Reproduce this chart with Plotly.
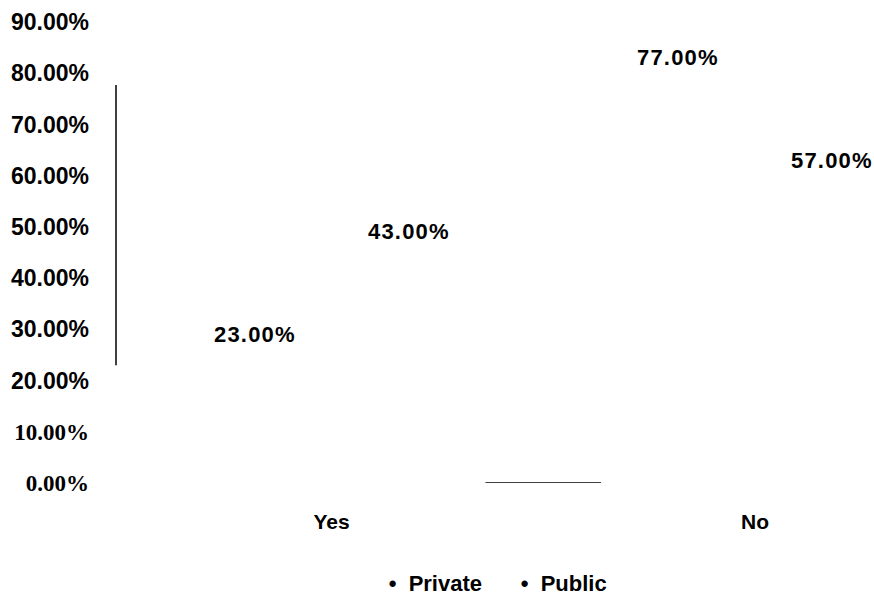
import plotly.graph_objects as go

# Survey answers by sector
categories = ["Yes", "No"]
private = [0.23, 0.77]
public = [0.43, 0.57]
series_names = ["Private", "Public"]

y_ticks = [i / 10 for i in range(10)]
y_tick_labels = ["%.2f%%" % (v * 100) for v in y_ticks]

SANS = "Liberation Sans, Arial, sans-serif"
SERIF = "Liberation Serif, Times New Roman, serif"
BAR_GAP = 0.273
bar_w = (1 - BAR_GAP) / 2

# the lowest two tick labels use a serif face
tick_text = []
for v, t in zip(y_ticks, y_tick_labels):
    if v < 0.15:
        tick_text.append("<span style='font-family:%s'>%s</span>" % (SERIF, t))
    else:
        tick_text.append(t)

fig = go.Figure()
for name, vals in zip(series_names, [private, public]):
    fig.add_trace(go.Bar(
        x=categories, y=vals, name="\u2022\u00a0\u00a0" + name,
        marker=dict(color="white", line=dict(width=0)),
        hoverinfo="skip",
    ))

# value labels floating above each bar
annotations = []
for si, vals in enumerate([private, public]):
    offset = -bar_w / 2 if si == 0 else bar_w / 2
    for ci, v in enumerate(vals):
        annotations.append(dict(
            x=ci + offset, y=v, xref="x", yref="y",
            text="<span style='letter-spacing:1.2px'>%.2f%%</span>" % (v * 100),
            showarrow=False, yshift=31,
            font=dict(family=SANS, size=22, color="black", weight="bold"),
        ))

shapes = [
    # baseline between the two groups
    dict(type="line", xref="x", yref="y", x0=bar_w, x1=1 - bar_w, y0=0, y1=0,
         line=dict(color="black", width=1.5)),
    # left rule spanning the private range
    dict(type="line", xref="paper", yref="y", x0=0, x1=0,
         y0=min(private), y1=max(private) + 0.007,
         line=dict(color="black", width=1.5)),
]

fig.update_layout(
    width=874, height=596,
    margin=dict(l=116, r=0, t=22, b=113, autoexpand=False),
    paper_bgcolor="white", plot_bgcolor="white",
    barmode="group", bargap=BAR_GAP, bargroupgap=0,
    font=dict(family=SANS, color="black"),
    annotations=annotations, shapes=shapes,
    showlegend=True,
    legend=dict(orientation="h", xanchor="left", x=0.307,
                yref="container", yanchor="middle", y=0.022,
                font=dict(family=SANS, size=22, color="black", weight="bold"),
                itemwidth=30, entrywidth=87),
    xaxis=dict(type="category", range=[-0.509, 1.281], showgrid=False,
               showline=False, zeroline=False, ticks="",
               ticklabelstandoff=24,
               tickfont=dict(family=SANS, size=21, color="black", weight="bold")),
    yaxis=dict(range=[0, 0.9], tickvals=y_ticks, ticktext=tick_text,
               showgrid=False, showline=False, zeroline=False, ticks="",
               ticklabelstandoff=26,
               tickfont=dict(family=SANS, size=23, color="black", weight="bold")),
)

fig.write_html("out.html")
